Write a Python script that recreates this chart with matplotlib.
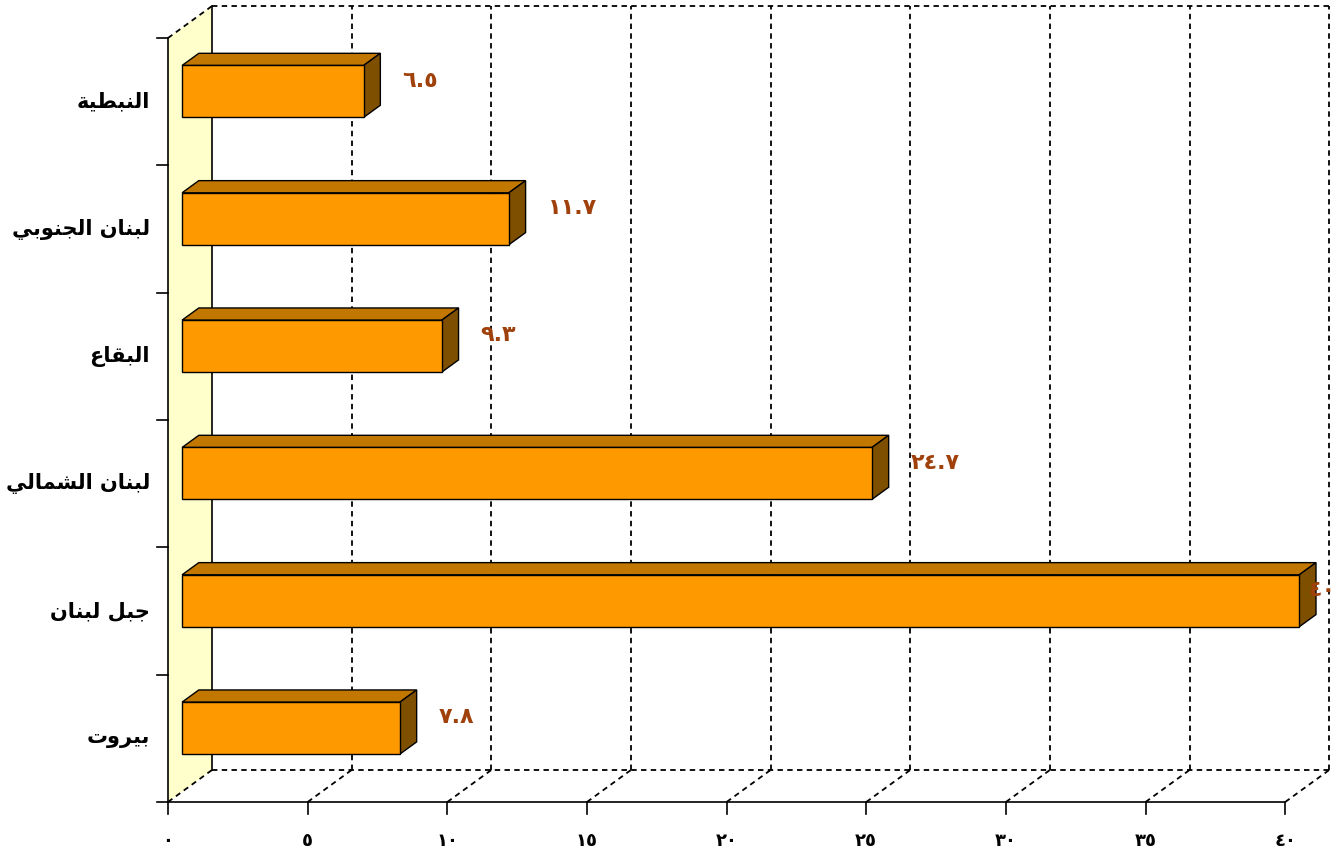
import matplotlib
matplotlib.use("Agg")
import matplotlib.pyplot as plt
from matplotlib.patches import Polygon

# ---------------- data ----------------
categories = ["بيروت", "جبل لبنان", "لبنان الشمالي", "البقاع", "لبنان الجنوبي", "النبطية"]
values = [7.8, 40, 24.7, 9.3, 11.7, 6.5]
tick_values = [0, 5, 10, 15, 20, 25, 30, 35, 40]
tick_labels = ["٠", "٥", "١٠", "١٥", "٢٠", "٢٥", "٣٠", "٣٥", "٤٠"]

# ---------------- Arabic shaping (presentation forms, visual order) ----------------
FORMS = {
    'ا': ('\uFE8D', '\uFE8E'),
    'ب': ('\uFE8F', '\uFE90', '\uFE91', '\uFE92'),
    'ة': ('\uFE93', '\uFE94'),
    'ت': ('\uFE95', '\uFE96', '\uFE97', '\uFE98'),
    'ج': ('\uFE9D', '\uFE9E', '\uFE9F', '\uFEA0'),
    'ر': ('\uFEAD', '\uFEAE'),
    'ش': ('\uFEB5', '\uFEB6', '\uFEB7', '\uFEB8'),
    'ط': ('\uFEC1', '\uFEC2', '\uFEC3', '\uFEC4'),
    'ع': ('\uFEC9', '\uFECA', '\uFECB', '\uFECC'),
    'ق': ('\uFED5', '\uFED6', '\uFED7', '\uFED8'),
    'ل': ('\uFEDD', '\uFEDE', '\uFEDF', '\uFEE0'),
    'م': ('\uFEE1', '\uFEE2', '\uFEE3', '\uFEE4'),
    'ن': ('\uFEE5', '\uFEE6', '\uFEE7', '\uFEE8'),
    'و': ('\uFEED', '\uFEEE'),
    'ي': ('\uFEF1', '\uFEF2', '\uFEF3', '\uFEF4'),
}


def shape(text):
    out = []
    n = len(text)
    for i, ch in enumerate(text):
        if ch not in FORMS:
            out.append(ch)
            continue
        f = FORMS[ch]
        prev = text[i - 1] if i > 0 else None
        nxt = text[i + 1] if i < n - 1 else None
        pc = prev in FORMS and len(FORMS[prev]) == 4
        nc = len(f) == 4 and nxt in FORMS
        if pc and nc:
            out.append(f[3])
        elif pc:
            out.append(f[1])
        elif nc:
            out.append(f[2])
        else:
            out.append(f[0])
    return ''.join(reversed(out))


to_arabic_digits = str.maketrans('0123456789', '٠١٢٣٤٥٦٧٨٩')

# ---------------- layout ----------------
W, H = 1342, 850
fig = plt.figure(figsize=(W / 100, H / 100), dpi=100)
ax = fig.add_axes([0, 0, 1, 1])
pxx = 27.93   # px per value unit
pxy = 127.33  # px per category unit
ax.set_xlim(-168 / pxx, (W - 168) / pxx)
ax.set_ylim(-48 / pxy, (H - 48) / pxy)
ax.axis('off')

DX, DY = 44 / pxx, 32 / pxy   # full depth offset
d1, d2 = 0.32, 0.70            # bar front/back depth
bar_h = 0.408
vmax = tick_values[-1]
ncat = len(categories)


def P(v, c, d):
    return (v + d * DX, c + d * DY)


dash = dict(color='black', lw=1.3, ls=(0, (3, 2.4)))
solid = dict(color='black', lw=1.2)

# floor
ax.add_patch(Polygon([P(0, 0, 0), P(vmax, 0, 0), P(vmax, 0, 1), P(0, 0, 1)],
                     closed=True, fc='white', ec='none', zorder=1))
# left wall
ax.add_patch(Polygon([P(0, 0, 0), P(0, ncat, 0), P(0, ncat, 1), P(0, 0, 1)],
                     closed=True, fc='#FFFFCC', ec='none', zorder=1))

# back wall gridlines + floor gridlines
for t in tick_values[1:]:
    a, b = P(t, 0, 1), P(t, ncat, 1)
    ax.plot([a[0], b[0]], [a[1], b[1]], zorder=2, **dash)
    a, b = P(t, 0, 0), P(t, 0, 1)
    ax.plot([a[0], b[0]], [a[1], b[1]], zorder=2, **dash)
# back wall top edge, floor back edge
for c in (0, ncat):
    a, b = P(0, c, 1), P(vmax, c, 1)
    ax.plot([a[0], b[0]], [a[1], b[1]], zorder=2, **dash)
# left wall top & bottom diagonals
for c in (0, ncat):
    a, b = P(0, c, 0), P(0, c, 1)
    ax.plot([a[0], b[0]], [a[1], b[1]], zorder=2, **dash)
# left wall back edge (solid)
a, b = P(0, 0, 1), P(0, ncat, 1)
ax.plot([a[0], b[0]], [a[1], b[1]], zorder=2, **solid)
# front axes
a, b = P(0, 0, 0), P(0, ncat, 0)
ax.plot([a[0], b[0]], [a[1], b[1]], zorder=3, **solid)
a, b = P(0, 0, 0), P(vmax, 0, 0)
ax.plot([a[0], b[0]], [a[1], b[1]], zorder=3, **solid)

# y ticks
ytick_len = 11 / pxx
for c in range(ncat + 1):
    ax.plot([-ytick_len, 0], [c, c], zorder=3, **solid)
# x ticks + labels
xtick_len = 12 / pxy
for t, lab in zip(tick_values, tick_labels):
    ax.plot([t, t], [0, -xtick_len], zorder=3, **solid)
    ax.text(t, -39 / pxy, lab, ha='center', va='center', fontsize=13,
            fontweight='bold', family=['DejaVu Sans'], color='black')

# bars
front_c = '#FF9900'
top_c = '#C27800'
side_c = '#7F4F00'
for i, (cat, v) in enumerate(zip(categories, values)):
    c0 = i + 0.5
    bot, top = c0 - bar_h / 2, c0 + bar_h / 2
    ax.add_patch(Polygon([P(0, top, d1), P(v, top, d1), P(v, top, d2), P(0, top, d2)],
                         closed=True, fc=top_c, ec='black', lw=1.0, zorder=5))
    ax.add_patch(Polygon([P(v, bot, d1), P(v, top, d1), P(v, top, d2), P(v, bot, d2)],
                         closed=True, fc=side_c, ec='black', lw=1.0, zorder=5))
    ax.add_patch(Polygon([P(0, bot, d1), P(v, bot, d1), P(v, top, d1), P(0, top, d1)],
                         closed=True, fc=front_c, ec='black', lw=1.0, zorder=6))
    # category label
    ax.text(-18 / pxx, c0, shape(cat), ha='right', va='center', fontsize=15,
            fontweight='bold', family=['DejaVu Sans'], color='black')
    # value label
    lab = f"{v:g}".translate(to_arabic_digits)
    lx = v + d2 * DX + 22 / pxx
    ly = c0 + 0.5 * DY + 0.04
    limit = (W - 6 - 168) / pxx
    kw = dict(va='center', fontsize=16, fontweight='bold',
              family=['DejaVu Sans'], color='#A0400A', zorder=7)
    if lx + 1.2 > limit:
        ax.text(limit, ly, lab, ha='right', **kw)
    else:
        ax.text(lx, ly, lab, ha='left', **kw)

fig.savefig('out.png', dpi=100)
